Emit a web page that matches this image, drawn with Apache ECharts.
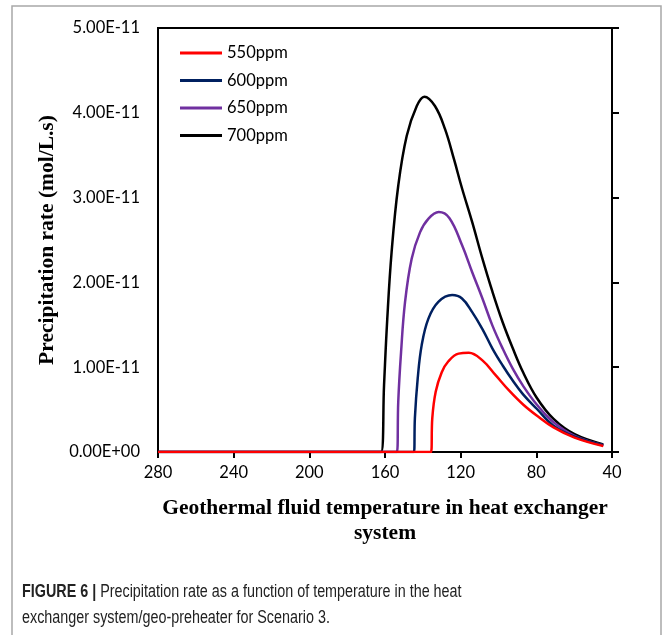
<!DOCTYPE html>
<html>
<head>
<meta charset="utf-8">
<script src="https://cdn.jsdelivr.net/npm/echarts@6/dist/echarts.min.js"></script>
<style>
  html, body { margin: 0; padding: 0; background: #fff; }
  #chart { width: 664px; height: 635px; }
</style>
</head>
<body>
<div id="chart"></div>
<script>
// precipitation rate in units of 1E-11 mol/L.s, temperature in deg C
const UNIT = 1e-11
const seriesNames = ['550ppm', '600ppm', '650ppm', '700ppm']
const seriesColors = ['#ff0000', '#002060', '#7030a0', '#000000']
const xTicks = [280, 240, 200, 160, 120, 80, 40]
const yTicks = [0, 1, 2, 3, 4, 5]

const temp550 = [280, 135.7, 135.0, 133.2, 130.0, 126.5, 121.1, 115.7, 108.5, 101.3, 94.2, 87.0, 79.8, 70.9, 59.8, 44.6]
const rate550 = [0, 0, 0.40, 0.71, 0.94, 1.07, 1.16, 1.17, 1.08, 0.90, 0.72, 0.56, 0.43, 0.29, 0.17, 0.07]

const temp600 = [280, 144.7, 144.2, 142.7, 140.6, 137.1, 131.8, 124.5, 119.3, 113.9, 108.5, 103.2, 97.8, 92.4, 87.0, 79.8, 70.9, 59.8, 44.6]
const rate600 = [0, 0, 0.40, 0.87, 1.26, 1.57, 1.77, 1.85, 1.81, 1.65, 1.45, 1.22, 1.02, 0.84, 0.68, 0.51, 0.31, 0.18, 0.08]

const temp650 = [280, 153.7, 153.0, 151.5, 149.4, 145.9, 141.5, 137.1, 131.6, 126.0, 119.3, 113.9, 108.5, 103.2, 97.8, 92.4, 87.0, 79.8, 70.9, 59.8, 44.6]
const rate650 = [0, 0, 0.59, 1.18, 1.77, 2.28, 2.59, 2.75, 2.83, 2.76, 2.44, 2.12, 1.81, 1.49, 1.22, 0.98, 0.78, 0.56, 0.35, 0.19, 0.08]

const temp700 = [280, 162.1, 160.5, 158.8, 156.5, 153.0, 148.5, 143.2, 139.2, 133.6, 128.3, 123.5, 119.3, 113.9, 108.5, 103.2, 97.8, 92.4, 87.0, 79.8, 70.9, 59.8, 44.6]
const rate700 = [0, 0, 0.79, 1.57, 2.36, 3.14, 3.73, 4.08, 4.19, 4.08, 3.81, 3.45, 3.11, 2.71, 2.28, 1.89, 1.53, 1.22, 0.94, 0.64, 0.39, 0.21, 0.09]

const temps = [temp550, temp600, temp650, temp700]
const rates = [rate550, rate600, rate650, rate700]

function sciLabel (v) {
  let s = (v * UNIT).toExponential(2).toUpperCase()
  return s.replace(/E([+-])(\d)$/, 'E$10$2')
}

const labelFont = 'Lato, "Open Sans", sans-serif'
const titleFont = '"Liberation Serif", "DejaVu Serif", serif'
const capFont = '"Liberation Sans", Arial, sans-serif'

let chart = echarts.init(document.getElementById('chart'))

let series = seriesNames.map((name, i) => ({
  name: name,
  type: 'line',
  data: temps[i].map((t, k) => [t, rates[i][k]]),
  smooth: 0.4,
  showSymbol: false,
  z: 10 - i,
  lineStyle: { color: seriesColors[i], width: 2.5 },
  itemStyle: { color: seriesColors[i] }
}))

let option = {
  animation: false,
  grid: {
    left: 158, right: 52, top: 28, bottom: 183,
    show: true, borderColor: '#000', borderWidth: 2, backgroundColor: 'transparent'
  },
  legend: {
    orient: 'vertical',
    left: 175, top: 38,
    itemWidth: 42, itemHeight: 3, itemGap: 7.5,
    icon: 'rect',
    textStyle: { fontFamily: labelFont, fontSize: 16.5, color: '#000', lineHeight: 20 },
    data: seriesNames
  },
  xAxis: {
    type: 'value',
    inverse: true,
    min: 40, max: 280, interval: 40,
    axisLine: { show: true, lineStyle: { color: '#000', width: 2 } },
    axisTick: { show: true, length: 6, lineStyle: { color: '#000', width: 2 } },
    splitLine: { show: false },
    axisLabel: { color: '#000', fontFamily: labelFont, fontSize: 16.5, margin: 12,
      formatter: v => xTicks.includes(v) ? String(v) : '' },
    name: 'Geothermal fluid temperature in heat exchanger\nsystem',
    nameLocation: 'middle',
    nameGap: 44,
    nameTextStyle: { fontFamily: titleFont, fontWeight: 'bold', fontSize: 21.5, color: '#000', lineHeight: 25 }
  },
  yAxis: [{
    type: 'value',
    min: 0, max: 5, interval: 1,
    axisLine: { show: true, lineStyle: { color: '#000', width: 2 } },
    axisTick: { show: false },
    splitLine: { show: false },
    axisLabel: { color: '#000', fontFamily: labelFont, fontSize: 16.5, margin: 18,
      formatter: v => yTicks.includes(v) ? sciLabel(v) : '' },
    name: 'Precipitation rate (mol/L.s)',
    nameLocation: 'middle',
    nameGap: 90,
    nameTextStyle: { fontFamily: titleFont, fontWeight: 'bold', fontSize: 21.5, color: '#000' }
  }, {
    type: 'value',
    position: 'right',
    min: 0, max: 5, interval: 1,
    axisLine: { show: true, lineStyle: { color: '#000', width: 2 } },
    axisTick: { show: true, length: 7, lineStyle: { color: '#000', width: 2 } },
    axisLabel: { show: false },
    splitLine: { show: false }
  }],
  graphic: [
    {
      type: 'polyline',
      shape: { points: [[12, 640], [12, 6], [661, 6], [661, 640]] },
      style: { stroke: '#a8a8a8', lineWidth: 1.5, fill: null },
      silent: true
    },
    {
      type: 'text',
      x: 22, y: 579,
      scaleX: 0.82,
      style: {
        text: '{b|FIGURE 6 |} Precipitation rate as a function of temperature in the heat\nexchanger system/geo-preheater for Scenario 3.',
        font: '17.5px ' + capFont,
        fill: '#222',
        lineHeight: 26,
        rich: {
          b: { font: 'bold 17.5px ' + capFont, fill: '#222' }
        }
      }
    }
  ],
  series: series
}

chart.setOption(option)
</script>
</body>
</html>
